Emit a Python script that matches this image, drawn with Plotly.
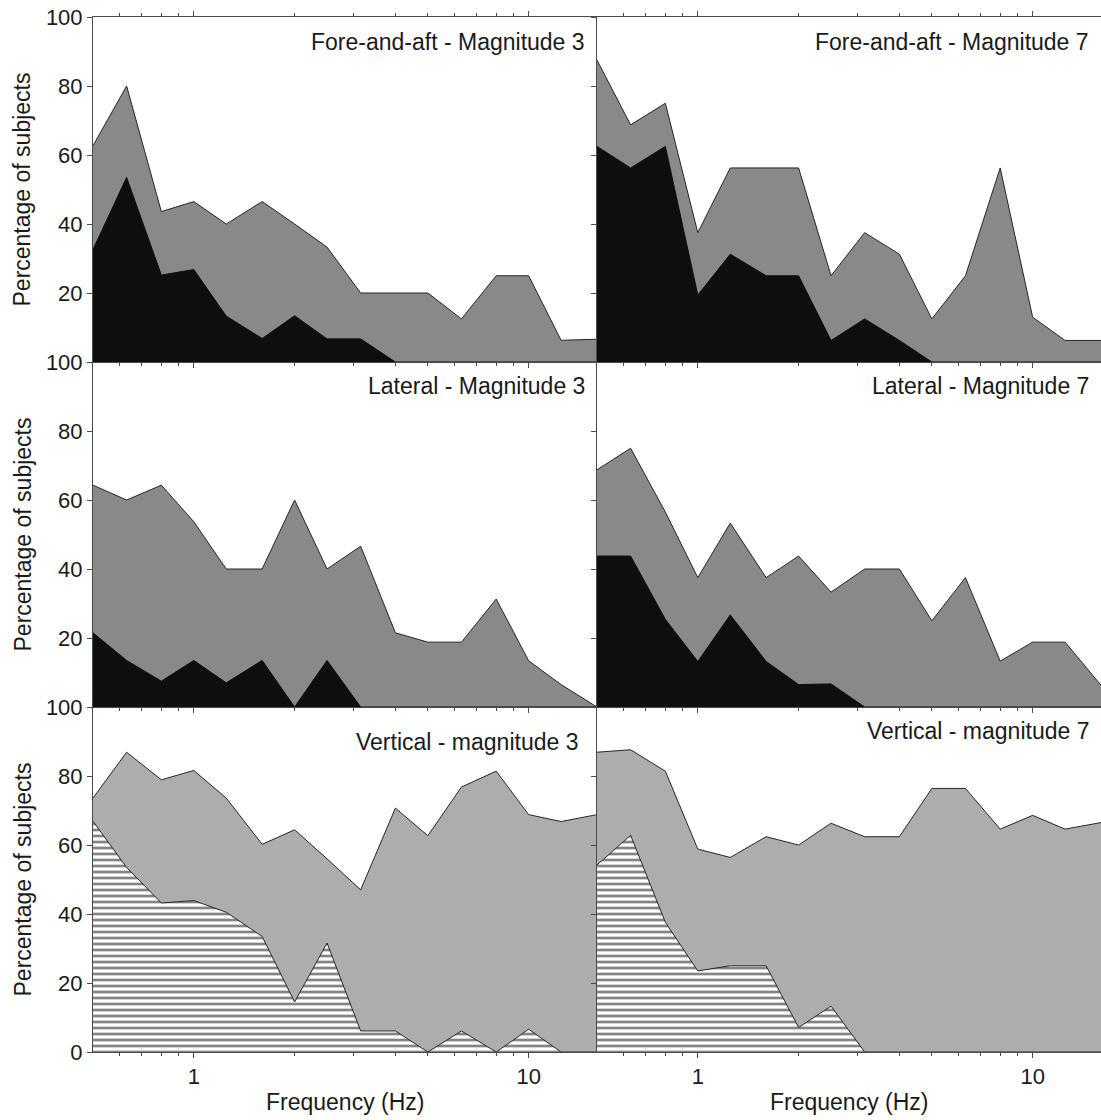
import math
import plotly.graph_objects as go
from plotly.subplots import make_subplots

# ---------------- data ----------------
freq = [0.5, 0.63, 0.8, 1.0, 1.25, 1.6, 2.0, 2.5, 3.15, 4.0, 5.0, 6.3, 8.0, 10.0, 12.5, 16.0]

fa3_total = [62.7, 80.0, 43.6, 46.5, 40.0, 46.5, 40.0, 33.3, 20.0, 20.0, 20.0, 12.5, 25.0, 25.0, 6.3, 6.6]
fa3_strong = [32.6, 53.5, 25.2, 26.8, 13.3, 6.8, 13.4, 6.7, 6.7, 0, 0, 0, 0, 0, 0, 0]

fa7_total = [87.5, 68.75, 75.0, 37.5, 56.25, 56.25, 56.25, 25.0, 37.5, 31.25, 12.5, 25.0, 56.25, 13.0, 6.25, 6.25]
fa7_strong = [62.5, 56.25, 62.5, 19.4, 31.25, 25.0, 25.0, 6.25, 12.5, 6.25, 0, 0, 0, 0, 0, 0]

lat3_total = [64.3, 60.0, 64.3, 53.7, 40.0, 40.0, 60.0, 40.0, 46.6, 21.5, 18.8, 18.8, 31.3, 13.4, 6.5, 0.0]
lat3_strong = [21.5, 13.5, 7.5, 13.5, 7.0, 13.5, 0, 13.5, 0, 0, 0, 0, 0, 0, 0, 0]

lat7_total = [68.75, 75.0, 56.5, 37.5, 53.3, 37.5, 43.75, 33.3, 40.0, 40.0, 25.0, 37.5, 13.3, 18.8, 18.8, 6.3]
lat7_strong = [43.75, 43.75, 25.4, 13.2, 26.7, 13.2, 6.5, 6.7, 0, 0, 0, 0, 0, 0, 0, 0]

vert3_total = [73.6, 86.9, 78.9, 81.6, 73.6, 60.2, 64.4, 56.0, 47.0, 70.7, 62.7, 76.8, 81.4, 68.8, 66.8, 68.8]
vert3_strong = [66.9, 53.5, 43.2, 43.9, 40.5, 33.5, 14.5, 31.6, 6.1, 6.1, 0, 6.1, 0, 6.6, 0, 0]

vert7_total = [86.9, 87.6, 81.4, 58.8, 56.4, 62.4, 60.0, 66.3, 62.4, 62.4, 76.4, 76.4, 64.6, 68.6, 64.6, 66.5]
vert7_strong = [54.2, 62.8, 37.6, 23.5, 25.0, 25.0, 7.1, 13.3, 0, 0, 0, 0, 0, 0, 0, 0]

panel_titles = ["Fore-and-aft - Magnitude 3", "Fore-and-aft - Magnitude 7",
                "Lateral - Magnitude 3", "Lateral - Magnitude 7",
                "Vertical - magnitude 3", "Vertical - magnitude 7"]

y_ticks = [0, 20, 40, 60, 80, 100]
x_major = [1, 10]
x_minor = [0.6, 0.7, 0.8, 0.9, 2, 3, 4, 5, 6, 7, 8, 9]

# ---------------- style ----------------
FONT = "Liberation Sans, Arial, Helvetica, sans-serif"
TXT = "#1a1a1a"
AX = "#4a4a4a"
BLACK = "#0e0e0e"
DGREY = "#898989"
LGREY = "#adadad"
EDGE = "#262626"

fig = make_subplots(rows=3, cols=2, horizontal_spacing=0, vertical_spacing=0)

panels = [
    (1, 1, fa3_total, fa3_strong, "solid"),
    (1, 2, fa7_total, fa7_strong, "solid"),
    (2, 1, lat3_total, lat3_strong, "solid"),
    (2, 2, lat7_total, lat7_strong, "solid"),
    (3, 1, vert3_total, vert3_strong, "hatch"),
    (3, 2, vert7_total, vert7_strong, "hatch"),
]

for r, c, tot, strong, kind in panels:
    topcolor = LGREY if kind == "hatch" else DGREY
    fig.add_trace(go.Scatter(x=freq, y=tot, mode="lines", fill="tozeroy",
                             fillcolor=topcolor, line=dict(color=EDGE, width=1),
                             showlegend=False, hoverinfo="skip"), row=r, col=c)
    if kind == "hatch":
        fig.add_trace(go.Scatter(x=freq, y=strong, mode="lines", fill="tozeroy",
                                 fillcolor="white",
                                 fillpattern=dict(shape="-", bgcolor="white", fgcolor="#0a0a0a",
                                                  size=6, solidity=0.45),
                                 line=dict(color="#1f301f", width=1),
                                 showlegend=False, hoverinfo="skip"), row=r, col=c)
    else:
        fig.add_trace(go.Scatter(x=freq, y=strong, mode="lines", fill="tozeroy",
                                 fillcolor=BLACK, line=dict(color=BLACK, width=1),
                                 showlegend=False, hoverinfo="skip"), row=r, col=c)

xr = [math.log10(0.5), math.log10(16)]
for r in (1, 2, 3):
    for c in (1, 2):
        fig.update_xaxes(type="log", range=xr, showgrid=False, zeroline=False,
                         showline=True, linecolor=AX, linewidth=1,
                         ticks="outside", ticklen=5, tickcolor=AX,
                         tickvals=x_major,
                         ticktext=["1", "10"] if r == 3 else ["", ""],
                         showticklabels=(r == 3),
                         minor=dict(tickvals=x_minor, ticks="outside", ticklen=3, tickcolor=AX),
                         mirror=("ticks" if r == 1 else False),
                         tickfont=dict(family=FONT, size=22, color=TXT),
                         row=r, col=c)
        if c == 1:
            labels = ["0" if r == 3 else ""] + [str(v) for v in y_ticks[1:]]
        else:
            labels = [""] * len(y_ticks)
        fig.update_yaxes(range=[0, 100], showgrid=False, zeroline=False,
                         showline=True, linecolor=AX, linewidth=1,
                         ticks="outside", ticklen=5, tickcolor=AX,
                         tickvals=y_ticks, ticktext=labels,
                         showticklabels=(c == 1),
                         tickfont=dict(family=FONT, size=22, color=TXT),
                         row=r, col=c)

# panel labels
title_shift = [-25, -25, -24, -24, -35, -24]
idx = 0
for r in (1, 2, 3):
    for c in (1, 2):
        n = (r - 1) * 2 + c
        suffix = "" if n == 1 else str(n)
        xs = -17 if (r == 3 and c == 1) else -10
        fig.add_annotation(text=panel_titles[idx], xref=f"x{suffix} domain", yref=f"y{suffix} domain",
                           x=1, y=1, xanchor="right", yanchor="middle", showarrow=False,
                           xshift=xs, yshift=title_shift[idx],
                           font=dict(family=FONT, size=23, color=TXT))
        idx += 1

# axis titles
W, H = 1101, 1120
ml, mr, mt, mb = 93, 0, 17, 68
pw, ph = W - ml - mr, H - mt - mb
for r in (1, 2, 3):
    yc = 1 - (r - 0.5) / 3
    fig.add_annotation(text="Percentage of subjects", xref="paper", yref="paper",
                       x=(22 - ml) / pw, y=yc, textangle=-90, showarrow=False,
                       xanchor="center", yanchor="middle",
                       font=dict(family=FONT, size=23, color=TXT))
for c in (1, 2):
    fig.add_annotation(text="Frequency (Hz)", xref="paper", yref="paper",
                       x=(c - 0.5) / 2, y=-(1102 - (mt + ph)) / ph, showarrow=False,
                       xanchor="center", yanchor="middle",
                       font=dict(family=FONT, size=23, color=TXT))

fig.update_layout(width=W, height=H, margin=dict(l=ml, r=mr, t=mt, b=mb),
                  plot_bgcolor="white", paper_bgcolor="white",
                  font=dict(family=FONT, color=TXT))

fig.write_html("out.html", config={"displayModeBar": False},
               post_script="document.body.style.margin='0';document.body.style.padding='0';"
                           "document.body.style.overflow='hidden';"
                           "document.documentElement.style.overflow='hidden';")
